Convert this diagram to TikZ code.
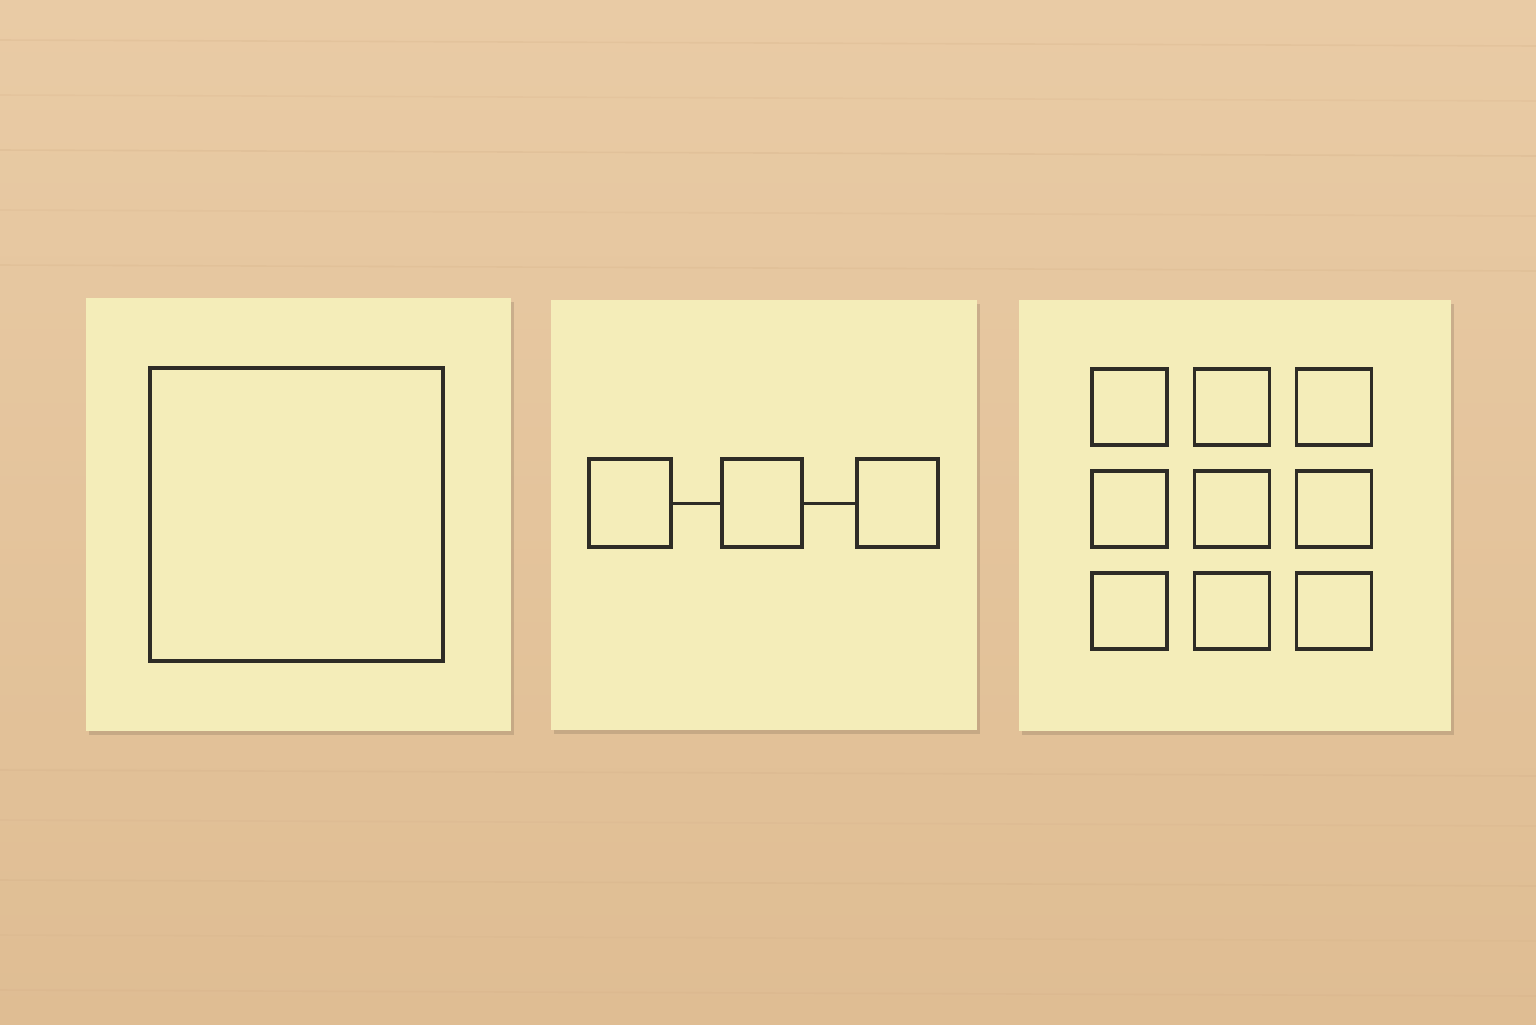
\documentclass[tikz,border=0pt]{standalone}
\definecolor{wood}{HTML}{E4C49C}
\definecolor{woodtop}{HTML}{E9CBA5}
\definecolor{woodbot}{HTML}{DFBD93}
\definecolor{wooddark}{HTML}{D4B088}
\definecolor{note}{HTML}{F4EDB9}
\definecolor{ink}{HTML}{2E2C26}
\tikzset{
  notepad/.style={fill=note, draw=none},
  noteshadow/.style={fill=black, opacity=0.12},
  inkbox/.style={draw=ink, line width=1.6pt, fill=none, inner sep=0pt},
  inkline/.style={draw=ink, line width=1.5pt},
}
\begin{document}
\begin{tikzpicture}[x=0.5pt,y=-0.5pt]
\useasboundingbox (0,0) rectangle (1536,1024);
% wood background
\shade[top color=woodtop, bottom color=woodbot] (0,0) rectangle (1536,1024);
\foreach \yy/\op in {40/0.25,95/0.2,150/0.3,210/0.2,265/0.25,770/0.25,820/0.2,880/0.3,935/0.2,990/0.25}{
  \draw[wooddark, line width=0.8pt, opacity=\op] (0,\yy) -- (1536,\yy+6);
}
% shadows
\fill[noteshadow] (89,302) rectangle (514,735);
\fill[noteshadow] (554,304) rectangle (980,734);
\fill[noteshadow] (1022,304) rectangle (1454,735);
% notes
\fill[notepad] (86,298) rectangle (511,731);
\fill[notepad] (551,300) rectangle (977,730);
\fill[notepad] (1019,300) rectangle (1451,731);
% note 1: big square
\node[inkbox, minimum width=146.5pt, minimum height=146.5pt] (big) at (296.5,514.5) {};
% note 2: three squares connected
\node[inkbox, minimum width=41pt, minimum height=44pt] (s1) at (630,503) {};
\node[inkbox, minimum width=40pt, minimum height=44pt] (s2) at (762,503) {};
\node[inkbox, minimum width=40.5pt, minimum height=44pt] (s3) at (897.5,503) {};
\draw[inkline] (s1.east) -- (s2.west);
\draw[inkline] (s2.east) -- (s3.west);
% note 3: 3x3 grid
\foreach \c/\cx in {1/1129.5,2/1232,3/1334}{
  \foreach \r/\ry in {1/407,2/509,3/611}{
    \node[inkbox, minimum width=37.5pt, minimum height=38pt] (g\r\c) at (\cx,\ry) {};
  }
}
\end{tikzpicture}
\end{document}
